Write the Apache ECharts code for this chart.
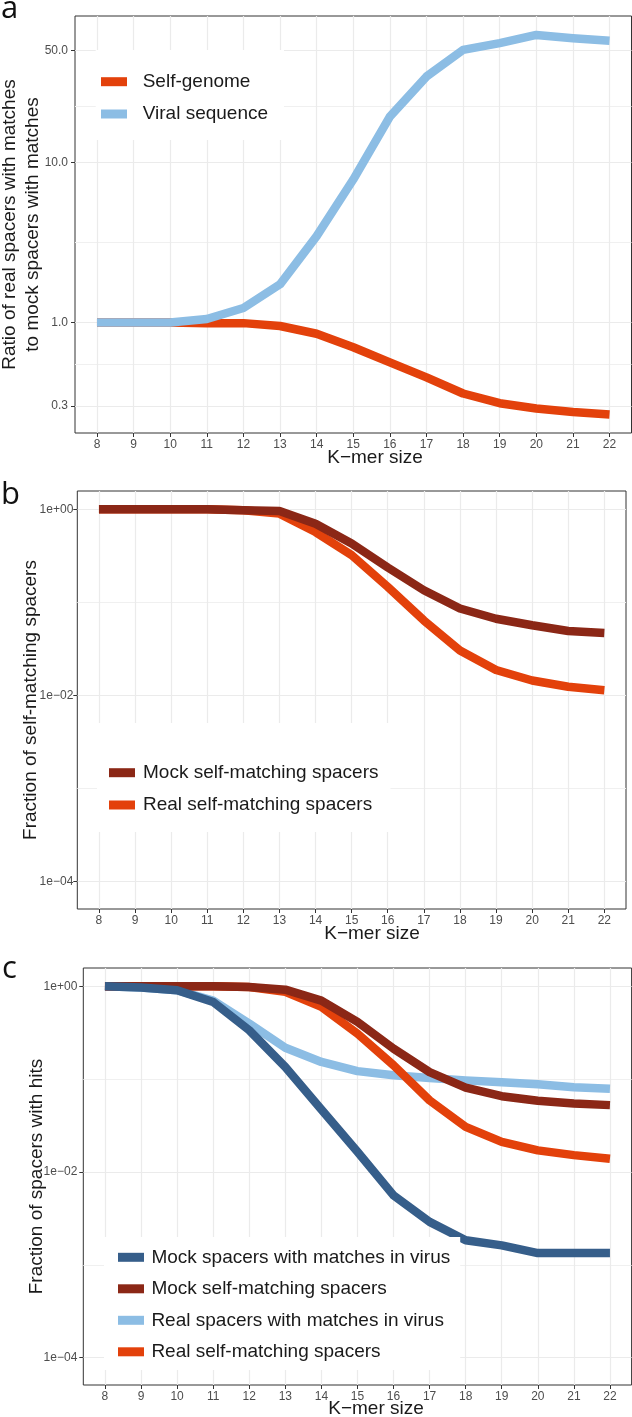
<!DOCTYPE html>
<html>
<head>
<meta charset="utf-8">
<script src="https://cdn.jsdelivr.net/npm/echarts@6/dist/echarts.min.js"></script>
<style>
  html, body { margin: 0; padding: 0; background: #fff; }
  #main { width: 632px; height: 1417px; }
</style>
</head>
<body>
<div id="main"></div>
<script>
var kmers = [8, 9, 10, 11, 12, 13, 14, 15, 16, 17, 18, 19, 20, 21, 22];

// panel a: ratio real / mock
var selfRatio  = [1.0, 1.0, 1.0, 0.99, 0.99, 0.95, 0.85, 0.70, 0.563, 0.454, 0.36, 0.313, 0.29, 0.276, 0.266];
var viralRatio = [1.0, 1.0, 1.0, 1.05, 1.23, 1.73, 3.46, 7.8, 19.3, 34.3, 50.3, 55.4, 62.4, 59.5, 57.3];

// panel b: fraction of self-matching spacers
var mockSelfB = [1.0, 1.0, 1.0, 1.0, 0.98, 0.96, 0.70, 0.43, 0.237, 0.135, 0.086, 0.0668, 0.0568, 0.0493, 0.047];
var realSelfB = [1.0, 1.0, 1.0, 1.0, 0.98, 0.90, 0.57, 0.322, 0.147, 0.064, 0.0305, 0.0188, 0.0145, 0.0124, 0.0114];

// panel c: fraction of spacers with hits
var mockVirusC = [1.0, 0.97, 0.906, 0.677, 0.336, 0.135, 0.047, 0.0165, 0.0056, 0.0029, 0.00184, 0.00162, 0.00134, 0.00134, 0.00134];
var mockSelfC  = [1.0, 1.0, 1.0, 1.0, 0.98, 0.92, 0.70, 0.413, 0.213, 0.119, 0.0812, 0.0655, 0.0584, 0.0548, 0.0525];
var realVirusC = [1.0, 0.97, 0.906, 0.70, 0.397, 0.218, 0.153, 0.122, 0.110, 0.103, 0.097, 0.0925, 0.088, 0.082, 0.0787];
var realSelfC  = [1.0, 1.0, 1.0, 1.0, 0.98, 0.87, 0.60, 0.309, 0.141, 0.059, 0.0306, 0.0211, 0.0171, 0.0152, 0.0139];

// tick values
var ratioTicks = [0.3, 1, 10, 50];
var fracTicks = [1e-4, 1e-2, 1];

var C_REAL_SELF = '#e3410b';
var C_MOCK_SELF = '#8b2716';
var C_REAL_VIR = '#8cbde4';
var C_MOCK_VIR = '#365e8a';

var FONT = '"Liberation Sans", Arial, sans-serif';

// minor grid lines sit halfway between major ticks (log space)
function midpoints(t) {
  var out = [];
  for (var i = 0; i < t.length - 1; i++) out.push(Math.sqrt(t[i] * t[i + 1]));
  return out;
}

function pairs(vals) {
  return kmers.map(function (k, i) { return [k, vals[i]]; });
}

function sciLabel(v) {
  var e = Math.round(Math.log10(v));
  var s = e < 0 ? '\u2212' : '+';
  var a = Math.abs(e);
  return '1e' + s + (a < 10 ? '0' + a : a);
}

var myChart = echarts.init(document.getElementById('main'));

var grids = [
  { left: 75, top: 16, width: 556.5, height: 417 },
  { left: 77.3, top: 491, width: 548.7, height: 418 },
  { left: 83.3, top: 968, width: 548.3, height: 417 }
];

var xAxes = grids.map(function (g, i) {
  return {
    type: 'value', gridIndex: i, min: 7.4, max: 22.6,
    axisLine: { show: false },
    axisTick: { show: true, length: 4, customValues: kmers, lineStyle: { color: '#333', width: 1 } },
    axisLabel: { customValues: kmers, margin: 6, color: '#4d4d4d', fontSize: 12, fontFamily: FONT },
    splitLine: { show: true, lineStyle: { color: '#ebebeb', width: 1.2 } }
  };
});

function yPair(i, min, max, ticks, fmt, margin) {
  return [
    {
      type: 'log', logBase: 10, gridIndex: i, min: min, max: max, position: 'left',
      axisLine: { show: false },
      axisTick: { show: true, length: 4, customValues: ticks, lineStyle: { color: '#333', width: 1 } },
      axisLabel: { customValues: ticks, formatter: fmt, margin: margin, color: '#4d4d4d', fontSize: 12, fontFamily: FONT },
      splitLine: { show: true, lineStyle: { color: '#ebebeb', width: 1.2 } }
    },
    {
      type: 'log', logBase: 10, gridIndex: i, min: min, max: max, position: 'left',
      axisLine: { show: false },
      axisTick: { show: false, customValues: midpoints(ticks) },
      axisLabel: { show: false },
      splitLine: { show: true, lineStyle: { color: '#f0f0f0', width: 1 } }
    }
  ];
}

var yAxes = []
  .concat(yPair(0, 0.204, 81.9, ratioTicks, function (v) { return v.toFixed(1); }, 7))
  .concat(yPair(1, 5.08e-5, 1.574, fracTicks, sciLabel, 4))
  .concat(yPair(2, 5.08e-5, 1.574, fracTicks, sciLabel, 6));

function line(name, vals, color, panel) {
  return {
    name: name, type: 'line', xAxisIndex: panel, yAxisIndex: panel * 2,
    data: pairs(vals), color: color,
    symbol: 'none', showSymbol: false, smooth: false,
    itemStyle: { color: color },
    lineStyle: { color: color, width: 8.5, cap: 'butt', join: 'round' },
    emphasis: { disabled: true }
  };
}

function legend(left, top, padding, gap, textGap, names) {
  return {
    orient: 'vertical', left: left, top: top, padding: padding, itemGap: gap,
    itemWidth: 26, itemHeight: 9, icon: 'rect', backgroundColor: '#fff',
    selectedMode: false, data: names,
    itemStyle: { borderWidth: 0 },
    formatter: function (name) { return '{g| }' + name; },
    textStyle: { fontSize: 19, fontFamily: FONT, color: '#1a1a1a', lineHeight: 20, rich: { g: { width: textGap } } }
  };
}

function txt(x, y, text, size, rot, extra) {
  var st = { text: text, font: size + 'px ' + FONT, fill: '#1a1a1a', align: 'center', verticalAlign: 'middle', textAlign: 'center', textVerticalAlign: 'middle' };
  if (extra) for (var k in extra) st[k] = extra[k];
  return { type: 'text', x: x, y: y, rotation: rot || 0, style: st, silent: true };
}

var letterFont = '"Open Sans", "Noto Sans", sans-serif';

function letter(x, y, s) {
  return { type: 'text', x: x, y: y, silent: true,
    style: { text: s, font: '31px ' + letterFont, fill: '#111', verticalAlign: 'bottom', textVerticalAlign: 'bottom' } };
}

var option = {
  animation: false,
  textStyle: { fontFamily: FONT },
  grid: grids.map(function (g) {
    return {
      left: g.left, top: g.top, width: g.width, height: g.height,
      show: true, borderColor: '#333', borderWidth: 1, backgroundColor: '#fff',
      containLabel: false, outerBoundsMode: 'none'
    };
  }),
  xAxis: xAxes,
  yAxis: yAxes,
  legend: [
    legend(95.7, 50, [21.7, 16, 16, 5.3], 12.3, 10.7, ['Self-genome', 'Viral sequence']),
    legend(97, 723, [39.7, 12, 17, 12], 12.3, 3, ['Mock self-matching spacers', 'Real self-matching spacers']),
    legend(104, 1237, [10.3, 10, 8.3, 14], 11.5, 2.4, ['Mock spacers with matches in virus', 'Mock self-matching spacers', 'Real spacers with matches in virus', 'Real self-matching spacers'])
  ],
  graphic: [
    letter(1, 25, 'a'),
    letter(1, 511, 'b'),
    letter(2, 985, 'c'),
    txt(21.5, 224.5, 'Ratio of real spacers with matches\nto mock spacers with matches', 19, Math.PI / 2, { lineHeight: 23 }),
    txt(31, 700, 'Fraction of self-matching spacers', 19, Math.PI / 2),
    txt(37, 1176.5, 'Fraction of spacers with hits', 19, Math.PI / 2),
    txt(375, 458, 'K\u2212mer size', 19),
    txt(372, 934, 'K\u2212mer size', 19),
    txt(376, 1409, 'K\u2212mer size', 19)
  ],
  series: [
    line('Self-genome', selfRatio, C_REAL_SELF, 0),
    line('Viral sequence', viralRatio, C_REAL_VIR, 0),
    line('Real self-matching spacers', realSelfB, C_REAL_SELF, 1),
    line('Mock self-matching spacers', mockSelfB, C_MOCK_SELF, 1),
    line('Real spacers with matches in virus', realVirusC, C_REAL_VIR, 2),
    line('Real self-matching spacers', realSelfC, C_REAL_SELF, 2),
    line('Mock self-matching spacers', mockSelfC, C_MOCK_SELF, 2),
    line('Mock spacers with matches in virus', mockVirusC, C_MOCK_VIR, 2)
  ]
};

myChart.setOption(option);
</script>
</body>
</html>
